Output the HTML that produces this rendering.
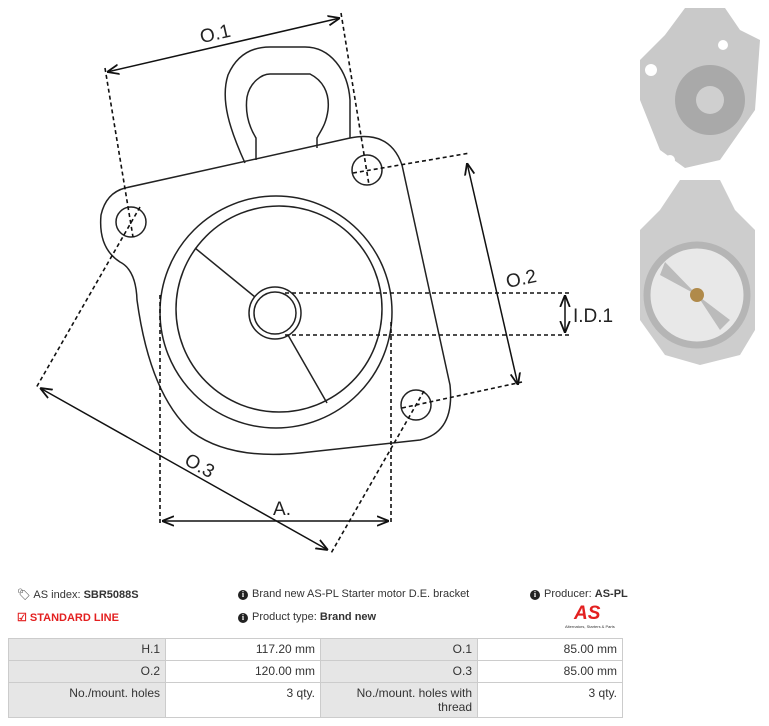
<!DOCTYPE html><html><head><style>
body{margin:0;width:769px;height:726px;background:#fff;font-family:"Liberation Sans",sans-serif;position:relative;overflow:hidden}
.t{position:absolute;font-size:11px;color:#333;white-space:nowrap}
.i{display:inline-block;width:10px;height:10px;border-radius:50%;background:#222;color:#fff;font-size:8px;line-height:10px;text-align:center;font-weight:bold;font-family:"Liberation Serif",serif;vertical-align:0px;margin-right:4px}
table{position:absolute;left:8px;top:638px;border-collapse:collapse;font-size:12px;color:#333}
td{border:1px solid #ccc;text-align:right;padding:3px 5px;vertical-align:top}
td.g{background:#e6e6e6}
</style></head><body>
<svg width="769" height="580" style="position:absolute;left:0;top:0">
<defs><marker id="a" viewBox="0 0 10 10" refX="10" refY="5" markerWidth="8" markerHeight="8" orient="auto-start-reverse"><path d="M0,1 L10,5 L0,9" fill="none" stroke="#111" stroke-width="1.5"/></marker></defs>
<g fill="none" stroke="#222" stroke-width="1.5">
<path d="M245,163 C230,130 220,100 228,75 C238,52 255,47 270,47 L305,47 C330,47 348,70 350,100 L350,138"/>
<path d="M256,160 L256,138 C248,125 245,112 247,97 C250,82 262,74 270,74 L310,74 C322,80 330,92 328,110 C326,125 321,130 317,138 L317,148"/>
<path d="M125,188 L350,138 Q390,130 402,165 L450,385 Q455,432 420,440 L300,453 Q230,460 192,432 Q150,395 137,300 Q136,270 120,262 Q98,248 101,215 Q106,193 125,188 Z"/>
<circle cx="131" cy="222" r="15"/><circle cx="367" cy="170" r="15"/><circle cx="416" cy="405" r="15"/>
<circle cx="276" cy="312" r="116"/>
<circle cx="279" cy="309" r="103"/>
<path d="M195,248 L255,297"/><path d="M288,335 L327,403"/>
<circle cx="275" cy="313" r="26"/><circle cx="275" cy="313" r="21"/>
</g>
<g stroke="#111" stroke-width="1.5" fill="none">
<line x1="107" y1="72" x2="340" y2="18" marker-start="url(#a)" marker-end="url(#a)"/>
<line x1="467" y1="163" x2="518" y2="385" marker-start="url(#a)" marker-end="url(#a)"/>
<line x1="565" y1="295" x2="565" y2="333" marker-start="url(#a)" marker-end="url(#a)"/>
<line x1="40" y1="388" x2="328" y2="550" marker-start="url(#a)" marker-end="url(#a)"/>
<line x1="162" y1="521" x2="389" y2="521" marker-start="url(#a)" marker-end="url(#a)"/>
</g>
<g stroke="#111" stroke-width="1.6" fill="none" stroke-dasharray="4,3">
<line x1="105" y1="68" x2="133" y2="237"/><line x1="341" y1="13" x2="369" y2="185"/>
<line x1="353" y1="173" x2="470" y2="153"/><line x1="402" y1="408" x2="522" y2="382"/>
<line x1="285" y1="293" x2="572" y2="293"/><line x1="285" y1="335" x2="572" y2="335"/>
<line x1="140" y1="207" x2="36" y2="388"/><line x1="424" y1="391" x2="330" y2="555"/>
<line x1="160" y1="295" x2="160" y2="523"/><line x1="391" y1="322" x2="391" y2="523"/>
</g>
<g font-size="19" fill="#222" font-family="Liberation Sans" text-anchor="middle">
<text x="215" y="40" transform="rotate(-13 215 33)">O.1</text>
<text x="521" y="285" transform="rotate(-12 521 278)">O.2</text>
<text x="593" y="322">I.D.1</text>
<text x="200" y="472" transform="rotate(29 200 465)">O.3</text>
<text x="282" y="515">A.</text>
</g>
<g>
<path d="M685,8 L725,8 L740,30 L760,40 L755,110 L720,160 L685,168 L660,150 L640,100 L640,60 L665,35 Z" fill="#c9c9c9"/>
<circle cx="710" cy="100" r="35" fill="#a9a9a9"/><circle cx="710" cy="100" r="14" fill="#cfcfcf"/>
<circle cx="723" cy="45" r="5" fill="#fff"/><circle cx="651" cy="70" r="6" fill="#fff"/><circle cx="670" cy="160" r="5" fill="#fff"/>
<path d="M680,180 L720,180 L735,210 L755,230 L755,330 L740,355 L700,365 L665,355 L640,320 L640,230 L660,210 Z" fill="#cdcdcd"/>
<circle cx="697" cy="295" r="50" fill="#e8e8e8" stroke="#b5b5b5" stroke-width="7"/>
<path d="M697,295 L660,275 L665,262 Z M697,295 L720,330 L730,320 Z" fill="#bbb"/>
<circle cx="697" cy="295" r="7" fill="#b08a4a"/>
</g>
</svg>
<div class="t" style="left:17px;top:588px">&#x1F3F7;&#xFE0E; AS index: <b>SBR5088S</b></div>
<div class="t" style="left:238px;top:588px"><span class="i">i</span>Brand new AS-PL Starter motor D.E. bracket</div>
<div class="t" style="left:530px;top:588px"><span class="i">i</span>Producer: <b>AS-PL</b></div>
<div class="t" style="left:17px;top:611px;color:#e32020;font-weight:bold">&#x2611; STANDARD LINE</div>
<div class="t" style="left:238px;top:611px"><span class="i">i</span>Product type: <b>Brand new</b></div>
<div class="t" style="left:574px;top:603px;color:#e32020;font-weight:bold;font-style:italic;font-size:19px">AS</div>
<div class="t" style="left:565px;top:624px;font-size:4px">Alternators, Starters &amp; Parts</div>
<table>
<tr style="height:22px"><td class="g" style="width:146px">H.1</td><td style="width:144px">117.20 mm</td><td class="g" style="width:146px">O.1</td><td style="width:134px">85.00 mm</td></tr>
<tr style="height:22px"><td class="g">O.2</td><td>120.00 mm</td><td class="g">O.3</td><td>85.00 mm</td></tr>
<tr style="height:34px"><td class="g">No./mount. holes</td><td>3 qty.</td><td class="g">No./mount. holes with<br>thread</td><td>3 qty.</td></tr>
</table>
</body></html>
